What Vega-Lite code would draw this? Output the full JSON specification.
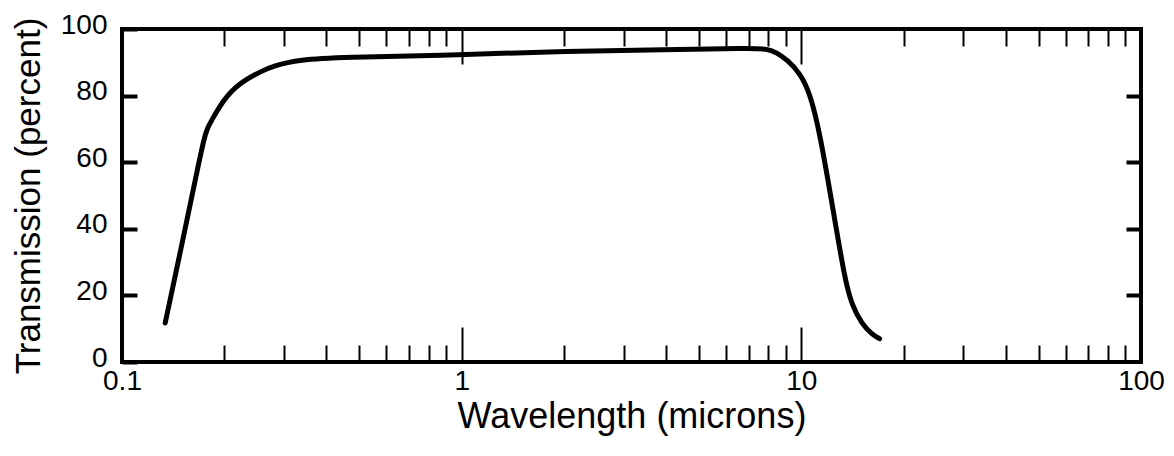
{
  "$schema": "https://vega.github.io/schema/vega-lite/v6.json",
  "width": 1019,
  "height": 333,
  "autosize": {"type": "none"},
  "padding": {"left": 122, "top": 29, "right": 33, "bottom": 94},
  "background": "white",
  "config": {
    "font": "Liberation Sans",
    "view": {"stroke": "black", "strokeWidth": 4},
    "axis": {"domain": false, "grid": false, "tickColor": "black", "labelColor": "black", "titleColor": "black", "labelFont": "Liberation Sans", "titleFont": "Liberation Sans", "titleFontWeight": "normal"}
  },
  "data": {
    "values": [
      {"wavelength": 0.134, "transmission": 11.7},
      {"wavelength": 0.153, "transmission": 39.3},
      {"wavelength": 0.168, "transmission": 59.5},
      {"wavelength": 0.1743, "transmission": 66.9},
      {"wavelength": 0.178, "transmission": 70.0},
      {"wavelength": 0.184, "transmission": 72.8},
      {"wavelength": 0.1943, "transmission": 76.9},
      {"wavelength": 0.2038, "transmission": 79.8},
      {"wavelength": 0.215, "transmission": 82.4},
      {"wavelength": 0.2333, "transmission": 85.0},
      {"wavelength": 0.2549, "transmission": 87.1},
      {"wavelength": 0.278, "transmission": 88.9},
      {"wavelength": 0.334, "transmission": 90.8},
      {"wavelength": 0.438, "transmission": 91.5},
      {"wavelength": 0.99, "transmission": 92.2},
      {"wavelength": 2.04, "transmission": 93.4},
      {"wavelength": 4.0, "transmission": 93.8},
      {"wavelength": 7.0, "transmission": 94.2},
      {"wavelength": 7.92, "transmission": 94.1},
      {"wavelength": 8.46, "transmission": 92.9},
      {"wavelength": 9.07, "transmission": 90.8},
      {"wavelength": 9.91, "transmission": 86.8},
      {"wavelength": 10.6, "transmission": 80.8},
      {"wavelength": 11.34, "transmission": 68.8},
      {"wavelength": 12.35, "transmission": 46.8},
      {"wavelength": 13.44, "transmission": 24.6},
      {"wavelength": 14.09, "transmission": 17.1},
      {"wavelength": 15.08, "transmission": 11.4},
      {"wavelength": 16.14, "transmission": 8.3},
      {"wavelength": 17.0, "transmission": 7.0}
    ]
  },
  "layer": [
    {
      "mark": {"type": "line", "color": "black", "strokeWidth": 5, "interpolate": "basis", "strokeCap": "round", "strokeJoin": "round"},
      "encoding": {
        "x": {
          "field": "wavelength", "type": "quantitative",
          "scale": {"type": "log", "domain": [0.1, 100]},
          "axis": {
            "orient": "bottom",
            "values": [0.1,0.2,0.3,0.4,0.5,0.6,0.7,0.8,0.9,1,2,3,4,5,6,7,8,9,10,20,30,40,50,60,70,80,90,100],
            "tickSize": {"condition": {"test": "datum.value == 1 || datum.value == 10", "value": -35}, "value": -17},
            "labelPadding": {"condition": {"test": "datum.value == 1 || datum.value == 10", "value": 40}, "value": 22},
            "tickWidth": 2,
            "labelExpr": "datum.value == 0.1 ? '0.1' : datum.value == 1 ? '1' : datum.value == 10 ? '10' : datum.value == 100 ? '100' : ''",
            "labelFontSize": 28,
            "labelOverlap": false,
            "labelFlush": false,
            "labelBound": false,
            "title": "Wavelength (microns)",
            "titleFontSize": 36,
            "titleBaseline": "alphabetic",
            "titleY": 65
          }
        },
        "y": {
          "field": "transmission", "type": "quantitative",
          "scale": {"domain": [0, 100]},
          "axis": {
            "orient": "left",
            "values": [0, 20, 40, 60, 80, 100],
            "tickSize": -15,
            "tickWidth": 4,
            "labelPadding": 30,
            "labelOffset": -4,
            "labelFontSize": 28,
            "labelOverlap": false,
            "labelFlush": false,
            "labelBound": false,
            "title": "Transmission (percent)",
            "titleFontSize": 35,
            "titleBaseline": "alphabetic",
            "titleX": -83
          }
        }
      }
    },
    {
      "mark": {"type": "line", "opacity": 0},
      "encoding": {
        "x": {
          "field": "wavelength", "type": "quantitative",
          "scale": {"type": "log", "domain": [0.1, 100]},
          "axis": {
            "orient": "top",
            "values": [0.1,0.2,0.3,0.4,0.5,0.6,0.7,0.8,0.9,1,2,3,4,5,6,7,8,9,10,20,30,40,50,60,70,80,90,100],
            "tickSize": {"condition": {"test": "datum.value == 1 || datum.value == 10", "value": -35}, "value": -17},
            "tickWidth": 2,
            "labels": false,
            "title": null
          }
        },
        "y": {
          "field": "transmission", "type": "quantitative",
          "scale": {"domain": [0, 100]},
          "axis": {
            "orient": "right",
            "values": [20, 40, 60, 80],
            "tickSize": -15,
            "tickWidth": 4,
            "labels": false,
            "title": null
          }
        }
      }
    }
  ],
  "resolve": {"axis": {"x": "independent", "y": "independent"}}
}
